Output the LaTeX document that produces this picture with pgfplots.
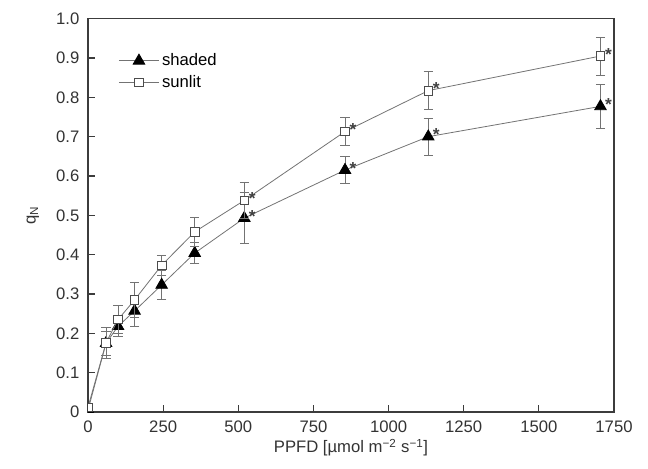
\documentclass[border=0pt]{standalone}
\usepackage{pgfplots}
\pgfplotsset{compat=1.18}
\usepackage{fontspec}
\setmainfont{Liberation Sans}
\definecolor{axgray}{RGB}{60,60,60}
\definecolor{lngray}{RGB}{115,115,115}
\begin{document}
\begin{tikzpicture}[x=1pt,y=1pt]
\path[use as bounding box] (0,0) rectangle (486,351);
\begin{axis}[
  scale only axis,
  width=394.5pt, height=295pt,
  at={(66pt,42pt)}, anchor=south west,
  xmin=0, xmax=1750, ymin=0, ymax=1.0,
  xtick={0,250,...,1750},
  ytick={0,0.1,...,1.0},
  yticklabels={0,0.1,0.2,0.3,0.4,0.5,0.6,0.7,0.8,0.9,1.0},
  tick pos=left, tick align=inside,
  major tick length=5pt,
  clip marker paths=true,
  axis line style={axgray, line width=1pt},
  tick style={axgray, line width=0.8pt},
  /pgf/number format/assume math mode=true,
  /pgf/number format/1000 sep={},
  ticklabel style={font=\fontsize{12.5}{14}\selectfont, text=black!80},
  xticklabel style={yshift=-3pt},
  yticklabel style={xshift=-3pt},
  xlabel={PPFD [µmol m\textsuperscript{−2} s\textsuperscript{−1}]},
  ylabel={q\textsubscript{N}},
  label style={font=\fontsize{12.5}{14}\selectfont, text=black!80},
  xlabel style={yshift=2pt},
  ylabel style={yshift=6pt},
  legend style={draw=none, fill=none, at={(0.05,0.925)}, anchor=north west,
    font=\fontsize{12.5}{14}\selectfont, row sep=1.5pt,
    /tikz/every even column/.append style={column sep=3pt}},
  legend cell align=left,
  legend image code/.code={
    \draw[#1, mark=none] (0pt,0pt) -- (30pt,0pt);
    \draw[#1, only marks] plot coordinates {(15pt,0pt)};
  },
]
\addplot[lngray, line width=0.6pt, mark=triangle*, mark size=5pt,
  mark options={black, fill=black, solid},
  error bars/.cd, y dir=both, y explicit,
  error bar style={lngray, line width=0.6pt},
  error mark options={rotate=90, mark size=3.5pt, lngray, line width=0.6pt}]
coordinates {
(0,0.005) +- (0,0)
(60,0.175) +- (0,0.03)
(100,0.218) +- (0,0.025)
(155,0.257) +- (0,0.04)
(245,0.323) +- (0,0.037)
(355,0.404) +- (0,0.027)
(520,0.493) +- (0,0.065)
(855,0.615) +- (0,0.035)
(1132,0.700) +- (0,0.047)
(1705,0.777) +- (0,0.055)
};
\addlegendentry{shaded}
\addplot[lngray, line width=0.6pt, mark=square*, mark size=3.2pt,
  mark options={draw=black!70, fill=white, solid, line width=0.6pt},
  error bars/.cd, y dir=both, y explicit,
  error bar style={lngray, line width=0.6pt},
  error mark options={rotate=90, mark size=3.5pt, lngray, line width=0.6pt}]
coordinates {
(0,0.012) +- (0,0)
(60,0.176) +- (0,0.04)
(100,0.235) +- (0,0.035)
(155,0.285) +- (0,0.045)
(245,0.373) +- (0,0.025)
(355,0.458) +- (0,0.037)
(520,0.538) +- (0,0.046)
(855,0.713) +- (0,0.036)
(1132,0.817) +- (0,0.048)
(1705,0.905) +- (0,0.048)
};
\addlegendentry{sunlit}
\addplot[draw=none, mark=none, forget plot,
  nodes near coords={*},
  every node near coord/.append style={anchor=base, xshift=6pt, yshift=-3pt,
    font=\fontsize{13}{14}\selectfont\bfseries, text=black!75, inner sep=0pt}]
coordinates {(520,0.493) (855,0.615) (1132,0.700) (1705,0.777)
  (520,0.538) (855,0.713) (1132,0.817) (1705,0.905)};
\end{axis}
\end{tikzpicture}
\end{document}
